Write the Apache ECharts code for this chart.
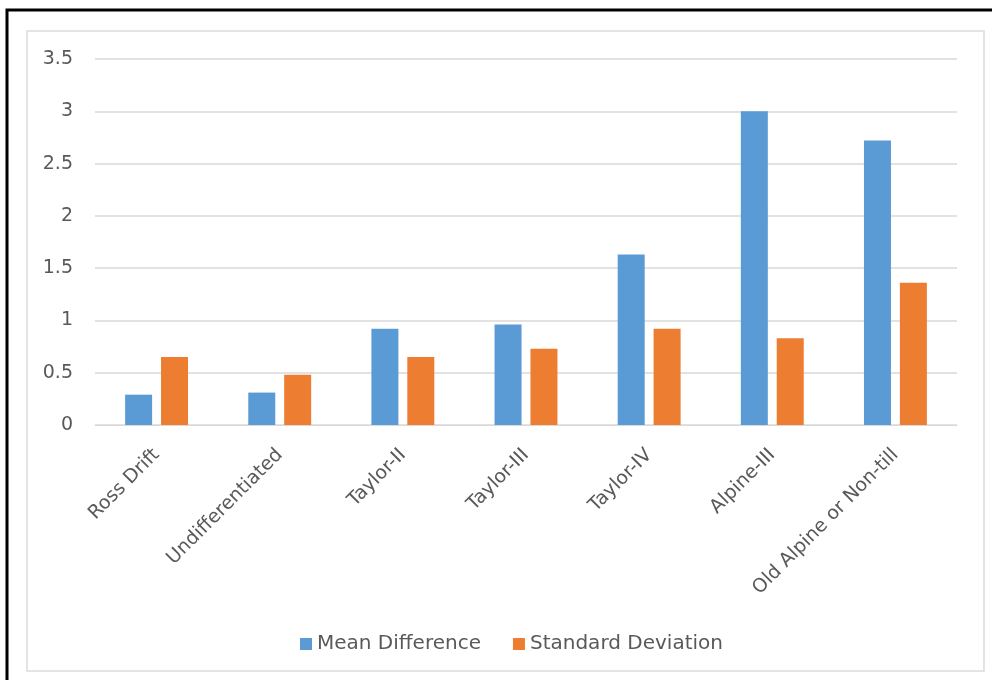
<!DOCTYPE html>
<html>
<head>
<meta charset="utf-8">
<script src="https://cdn.jsdelivr.net/npm/echarts@6/dist/echarts.min.js"></script>
<style>
  html, body { margin: 0; padding: 0; background: #fff; }
  #main { width: 992px; height: 680px; }
</style>
</head>
<body>
<div id="main"></div>
<script>
// categories along the x axis
const categories = ['Ross Drift', 'Undifferentiated', 'Taylor-II', 'Taylor-III', 'Taylor-IV', 'Alpine-III', 'Old Alpine or Non-till']
// values
const meanDifference = [0.29, 0.31, 0.92, 0.96, 1.63, 3.0, 2.72]
const standardDeviation = [0.65, 0.48, 0.65, 0.73, 0.92, 0.83, 1.36]
const seriesNames = ['Mean Difference', 'Standard Deviation']

const myChart = echarts.init(document.getElementById('main'))
const font = '"DejaVu Sans", sans-serif'

myChart.setOption({
  animation: false,
  backgroundColor: '#fff',
  color: ['#5B9BD5', '#ED7D31'],
  // the frame around the chart
  graphic: [
    {
      type: 'rect',
      shape: { x: 7, y: 10, width: 1000, height: 700 },
      style: { fill: 'none', stroke: '#000', lineWidth: 3 }
    },
    {
      type: 'rect',
      shape: { x: 27, y: 31, width: 957, height: 640 },
      style: { fill: 'none', stroke: '#dcdcdc', lineWidth: 1.5 }
    }
  ],
  grid: { left: 95, right: 35, top: 59, bottom: 255 },
  legend: {
    data: seriesNames,
    bottom: 21,
    left: 295,
    itemWidth: 12,
    itemHeight: 12,
    itemGap: 32,
    icon: 'rect',
    textStyle: { color: '#595959', fontSize: 20, fontFamily: font }
  },
  xAxis: {
    type: 'category',
    data: categories,
    axisLine: { lineStyle: { color: '#d9d9d9' } },
    axisTick: { show: false },
    axisLabel: {
      rotate: 45,
      interval: 0,
      margin: 27,
      color: '#595959',
      fontSize: 19,
      fontFamily: font
    }
  },
  yAxis: {
    type: 'value',
    min: 0,
    max: 3.5,
    interval: 0.5,
    axisLine: { show: false },
    axisTick: { show: false },
    splitLine: { lineStyle: { color: '#d9d9d9', width: 1.5 } },
    axisLabel: { color: '#595959', fontSize: 19, fontFamily: font, margin: 22 }
  },
  series: [
    {
      name: seriesNames[0],
      type: 'bar',
      data: meanDifference,
      barWidth: 27,
      barGap: '33%'
    },
    {
      name: seriesNames[1],
      type: 'bar',
      data: standardDeviation,
      barWidth: 27,
      barGap: '33%'
    }
  ]
})
</script>
</body>
</html>
